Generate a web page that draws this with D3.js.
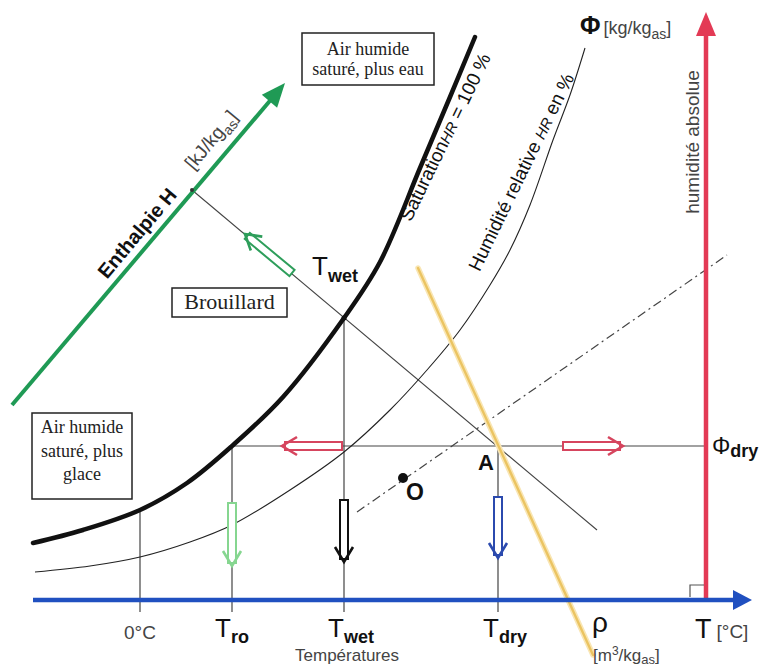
<!DOCTYPE html>
<html lang="fr">
<head>
<meta charset="UTF-8">
<title>Diagramme de l'air humide</title>
<script src="https://d3js.org/d3.v7.min.js"></script>
<style>
    html, body { margin:0; padding:0; background:#fff; }
</style>
</head>
<body>
<div id="chart"></div>
<script>
// unités du schéma : température T (abscisse) et humidité absolue Φ (ordonnée)
const satCurve = [[-10.7,5.7],[-5.7,7.0],[0,9.0],[4.7,11.7],[9.2,15.4],[14.3,20.3],[20.4,28.2],[24.0,33.8],[28.0,43.2],[31.0,50.3],[33.5,56.3]];
const hrCurve = [[-10.5,2.8],[-5,3.4],[0,4.3],[5,5.8],[9.2,7.5],[15,11],[20.4,14.8],[25,19],[28.7,23],[32,27],[35,31.5],[37,35],[39,39.5],[41.3,46],[43,50.5],[44.5,55.2]];

const tempNames = ["0°C", "ro", "wet", "dry"];
const tempValues = [0, 9.2, 20.4, 35.8];
const tempTop = [9.0, 15.4, 28.2, 15.4];
const tempLabelX = [0, 9.2, 21.1, 36.5];
const phiDry = 15.4;

const tAxis = [-10.7, 61.2];
const phiAxis = [0, 58.8];
const tAbs = 56.6;
const enthalpyAxis = [[-12.8,19.5],[14.5,51.7]];
const enthalpyLine = [[5.2,41],[45.7,7]];
const volumeLine = [[27.8,33.2],[45.3,-5.5]];
const mixLine = [[21.7,8.8],[58.7,34.5]];
const pointO = [26.3,12.2];

const hollowArrows = [
    {from:[15.2,32.7], to:[10.5,36.6], color:"#2e9e5b"},
    {from:[20.2,15.4], to:[14.2,15.4], color:"#d6455e"},
    {from:[42.3,15.4], to:[48.3,15.4], color:"#d6455e"},
    {from:[9.2,9.7],   to:[9.2,3.4],   color:"#86d690"},
    {from:[20.4,10.0], to:[20.4,3.8],  color:"#111"},
    {from:[35.8,10.3], to:[35.8,4.2],  color:"#2b4aae"}
];

const W = 763, H = 668;
const x = d3.scaleLinear().domain([-11, 62]).range([30, 760]);
const y = d3.scaleLinear().domain([0, 60]).range([600, 0]);
const P = d => [x(d[0]), y(d[1])];

const svg = d3.select("#chart").append("svg")
    .attr("width", W).attr("height", H);

const line = d3.line().x(d => x(d[0])).y(d => y(d[1]));
const curve = d3.line().x(d => x(d[0])).y(d => y(d[1])).curve(d3.curveCatmullRom);

function seg(a, b, color, width, dash) {
    const s = svg.append("path").attr("d", line([a, b]))
        .attr("stroke", color).attr("stroke-width", width).attr("fill", "none");
    if (dash) s.attr("stroke-dasharray", dash);
    return s;
}

function head(tip, from, len, hw, color) {
    const [tx, ty] = P(tip), [fx, fy] = P(from);
    const L = Math.hypot(tx - fx, ty - fy), ux = (tx - fx) / L, uy = (ty - fy) / L;
    const bx = tx - ux * len, by = ty - uy * len;
    svg.append("path")
        .attr("d", `M${tx},${ty}L${bx - uy * hw},${by + ux * hw}L${bx + uy * hw},${by - ux * hw}Z`)
        .attr("fill", color);
}

// lignes verticales des températures
tempValues.forEach((t, i) => seg([t, tempTop[i]], [t, -1.2], "#444", 1.2));
// ligne Φdry
seg([tempValues[1], phiDry], [tAbs, phiDry], "#444", 1.2);
// enthalpie constante
seg(enthalpyLine[0], enthalpyLine[1], "#444", 1.1);
// courbe HR
svg.append("path").attr("d", curve(hrCurve)).attr("fill", "none")
    .attr("stroke", "#222").attr("stroke-width", 1.1);
// ligne de mélange
seg(mixLine[0], mixLine[1], "#444", 1.2, "9,4,2,4");
// saturation
svg.append("path").attr("d", curve(satCurve)).attr("fill", "none")
    .attr("stroke", "#111").attr("stroke-width", 4.5).attr("stroke-linecap", "round");
// volume spécifique
seg(volumeLine[0], volumeLine[1], "#f9e6b4", 5.5).attr("stroke-linecap", "round");
seg(volumeLine[0], volumeLine[1], "#ebc462", 2.4).attr("stroke-linecap", "round");

// axe enthalpie
seg(enthalpyAxis[0], [enthalpyAxis[1][0] - 1.4, enthalpyAxis[1][1] - 1.65], "#1f9a55", 4);
head(enthalpyAxis[1], enthalpyAxis[0], 24, 10, "#1f9a55");
svg.append("circle").attr("cx", x(enthalpyLine[0][0])).attr("cy", y(enthalpyLine[0][1]))
    .attr("r", 2).attr("fill", "#333");

// axe humidité absolue
seg([tAbs, phiAxis[0]], [tAbs, phiAxis[1] - 2], "#e33a55", 4.5);
head([tAbs, phiAxis[1]], [tAbs, 0], 24, 10, "#e33a55");
// axe températures
seg([tAxis[0], 0], [tAxis[1] - 1.5, 0], "#2050c0", 4.5);
head([tAxis[1], 0], [0, 0], 19, 10, "#2050c0");
// angle droit
svg.append("path").attr("d", line([[tAbs - 1.6, 0.3], [tAbs - 1.6, 1.5], [tAbs - 0.2, 1.5]]))
    .attr("fill", "none").attr("stroke", "#555").attr("stroke-width", 1.2);

// flèches creuses
hollowArrows.forEach(a => {
    const [tx, ty] = P(a.to), [fx, fy] = P(a.from);
    const ang = Math.atan2(ty - fy, tx - fx) * 180 / Math.PI;
    const L = Math.hypot(tx - fx, ty - fy);
    const g = svg.append("g").attr("transform", `translate(${fx},${fy}) rotate(${ang})`);
    g.append("rect").attr("x", 0).attr("y", -4).attr("width", L - 3).attr("height", 8)
        .attr("fill", "#fff").attr("stroke", a.color).attr("stroke-width", 2);
    g.append("path").attr("d", `M${L - 15},-9L${L},0L${L - 15},9`)
        .attr("fill", "none").attr("stroke", a.color).attr("stroke-width", 2.6);
});

// points
svg.append("circle").attr("cx", x(pointO[0])).attr("cy", y(pointO[1])).attr("r", 5).attr("fill", "#111");
svg.append("circle").attr("cx", x(tempValues[2])).attr("cy", y(tempTop[2])).attr("r", 2.5).attr("fill", "#111");

// textes : police sans par défaut
const txtG = svg.append("g").style("font-family", "Liberation Sans, Arial, sans-serif");

// boîtes de texte
function box(t0, t1, p0, p1, lines, size, baselines) {
    svg.append("rect").attr("x", x(t0)).attr("y", y(p0))
        .attr("width", x(t1) - x(t0)).attr("height", y(p1) - y(p0))
        .attr("fill", "#fff").attr("stroke", "#222").attr("stroke-width", 1.5);
    lines.forEach((s, i) => svg.append("text")
        .style("font-family", "Liberation Serif, Times New Roman, Times, serif")
        .attr("x", (x(t0) + x(t1)) / 2).attr("y", y(baselines[i]))
        .attr("text-anchor", "middle").attr("font-size", size).attr("fill", "#222").text(s));
}
box(16.2, 29.4, 56.7, 51.5, ["Air humide", "saturé, plus eau"], 18, [54.5, 52.5]);
box(-10.8, -0.8, 18.7, 10.1, ["Air humide", "saturé, plus", "glace"], 18, [16.7, 14.3, 12.0]);
box(3.2, 14.7, 31.2, 28.3, ["Brouillard"], 22, [29.1]);

// texte avec indice
function subText(t, p, main, sub, o) {
    const txt = txtG.append("text").attr("x", x(t)).attr("y", y(p))
        .attr("text-anchor", o.anchor || "start").attr("fill", o.color || "#111");
    if (o.rotate) txt.attr("transform", `rotate(${o.rotate},${x(t)},${y(p)})`);
    txt.append("tspan").attr("font-size", o.size).attr("font-weight", o.mainWeight || "normal").text(main);
    txt.append("tspan").attr("font-size", o.subSize).attr("font-weight", o.subWeight || "bold")
        .attr("dy", o.dy).text(sub);
    if (o.after) txt.append("tspan").attr("font-size", o.size).attr("dy", -o.dy).text(o.after);
    return txt;
}

// labels enthalpie
txtG.append("text").attr("transform", `translate(${x(-0.3)},${y(36.7)}) rotate(-50)`)
    .attr("text-anchor", "middle").attr("dy", "0.35em").attr("font-size", 20)
    .attr("font-weight", "bold").attr("fill", "#111").text("Enthalpie H");
subText(7.6, 45.6, "[kJ/kg", "as", {size:19, subSize:14, subWeight:"normal", dy:5, after:"]",
    color:"#444", anchor:"middle", rotate:-50});

subText(17.2, 32.5, "T", "wet", {size:26, subSize:18, dy:7});

// saturation et HR
const satLab = txtG.append("text").attr("transform", `translate(${x(30.5)},${y(46.3)}) rotate(-64)`)
    .attr("text-anchor", "middle").attr("dy", "0.35em").attr("font-size", 19).attr("fill", "#111");
satLab.append("tspan").text("Saturation");
satLab.append("tspan").attr("font-style", "italic").attr("font-size", 15).text("HR");
satLab.append("tspan").text(" = 100 %");

const hrLab = txtG.append("text").attr("transform", `translate(${x(38.1)},${y(42.8)}) rotate(-64)`)
    .attr("text-anchor", "middle").attr("dy", "0.35em").attr("font-size", 19).attr("fill", "#111");
hrLab.append("tspan").text("Humidité relative ");
hrLab.append("tspan").attr("font-style", "italic").attr("font-size", 15).text("HR");
hrLab.append("tspan").text(" en %");

// Φ en haut
const phiLab = txtG.append("text").attr("x", x(44)).attr("y", y(56.6)).attr("fill", "#111");
phiLab.append("tspan").attr("font-size", 25).attr("font-weight", "bold").text("Φ");
phiLab.append("tspan").attr("font-size", 18).attr("fill", "#444").attr("dx", 3).text("[kg/kg");
phiLab.append("tspan").attr("font-size", 14).attr("fill", "#444").attr("dy", 5).text("as");
phiLab.append("tspan").attr("font-size", 18).attr("fill", "#444").attr("dy", -5).text("]");

txtG.append("text").attr("transform", `translate(${x(55.2)},${y(45.8)}) rotate(-90)`)
    .attr("text-anchor", "middle").attr("dy", "0.35em").attr("font-size", 19)
    .attr("fill", "#444").text("humidité absolue");

subText(57.2, 14.6, "Φ", "dry", {size:23, subSize:18, dy:3});
txtG.append("text").attr("x", x(33.8)).attr("y", y(13.0)).attr("font-size", 22)
    .attr("font-weight", "bold").attr("fill", "#111").text("A");
txtG.append("text").attr("x", x(26.6)).attr("y", y(10.0)).attr("font-size", 23)
    .attr("font-weight", "bold").attr("fill", "#111").text("O");

// étiquettes en bas
tempNames.forEach((n, i) => {
    if (i === 0) {
        txtG.append("text").attr("x", x(tempLabelX[i])).attr("y", y(-3.9))
            .attr("text-anchor", "middle").attr("font-size", 19).attr("fill", "#444").text(n);
    } else {
        subText(tempLabelX[i], -3.7, "T", n, {size:26, subSize:18, dy:6, anchor:"middle"});
    }
});
txtG.append("text").attr("x", x(20.7)).attr("y", y(-6.1)).attr("text-anchor", "middle")
    .attr("font-size", 17).attr("fill", "#444").text("Températures");
txtG.append("text").attr("x", x(46)).attr("y", y(-3.2)).attr("text-anchor", "middle")
    .attr("font-size", 28).attr("fill", "#111").text("ρ");
const mLab = txtG.append("text").attr("x", x(45.3)).attr("y", y(-6.1)).attr("fill", "#444").attr("font-size", 17);
mLab.append("tspan").text("[m");
mLab.append("tspan").attr("font-size", 12).attr("dy", -6).text("3");
mLab.append("tspan").attr("dy", 6).text("/kg");
mLab.append("tspan").attr("font-size", 13).attr("dy", 3).text("as");
mLab.append("tspan").attr("dy", -3).text("]");
const tLab = txtG.append("text").attr("x", x(55.5)).attr("y", y(-3.8)).attr("fill", "#111");
tLab.append("tspan").attr("font-size", 27).text("T");
tLab.append("tspan").attr("font-size", 19).attr("fill", "#444").attr("dx", 5).text("[°C]");
</script>
</body>
</html>
